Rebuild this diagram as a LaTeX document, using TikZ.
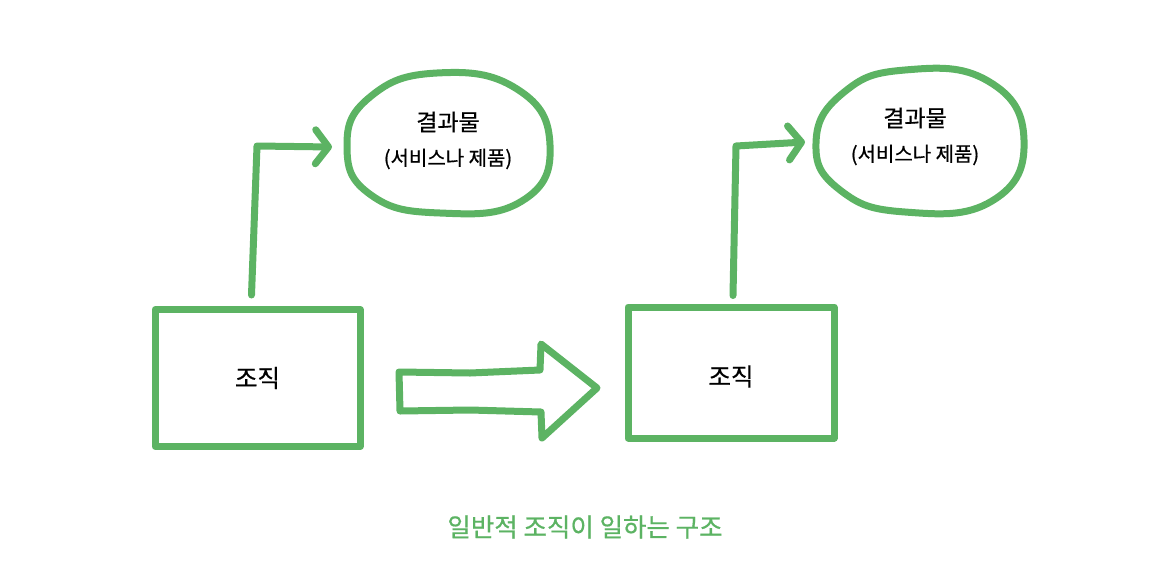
\documentclass[tikz,border=0pt]{standalone}
\usepackage{fontspec}
\setmainfont{Noto Sans CJK KR}[FakeBold=0.6]
\usetikzlibrary{arrows.meta,shapes.geometric}
\definecolor{pen}{RGB}{92,179,99}
\begin{document}
\begin{tikzpicture}[x=1pt,y=-1pt,
  penline/.style={draw=pen,line width=7pt,line cap=round,line join=round},
  box/.style={penline,rectangle,inner sep=0pt},
  blob/.style={ellipse,inner sep=0pt},
  title/.style={inner sep=0pt,font=\fontsize{23}{28}\selectfont},
  orgtext/.style={inner sep=0pt,font=\fontsize{24.5}{28}\selectfont},
  subtitle/.style={inner sep=0pt,font=\fontsize{20}{24}\selectfont},
  conn/.style={penline,-{Straight Barb[length=13pt,width=34pt,round]}},
  caption/.style={inner sep=0pt,text=pen,font=\fontsize{25.5}{30}\selectfont},
]
\useasboundingbox (0,0) rectangle (1170,579);

% left organisation and its result
\node[box,minimum width=205pt,minimum height=137pt] (org1) at (257.5,378) {};
\node[orgtext] (org1t) at (org1.center) {조직};
\node[blob,minimum width=203pt,minimum height=140pt] (res1) at (448,144) {};
\draw[penline] plot[smooth cycle,tension=0.8] coordinates {
  (347,147) (370,97) (437,73) (517,89) (550,145) (522,201) (440,213) (371,195)};
\node[title] (res1t) at ([yshift=22pt]res1.center) {결과물};
\node[subtitle] (res1s) at ([yshift=-15pt]res1.center) {(서비스나 제품)};
\coordinate (c1) at (257,146);
\coordinate (t1) at (332,147);
\draw[conn] ([shift={(-6pt,11pt)}]org1.north) -- (c1) -- (t1);

% right organisation and its result
\node[box,minimum width=206pt,minimum height=131pt] (org2) at (731,372.5) {};
\node[orgtext] (org2t) at ([yshift=-4pt]org2.center) {조직};
\node[blob,minimum width=207pt,minimum height=141pt] (res2) at (920,141) {};
\draw[penline] plot[smooth cycle,tension=0.8] coordinates {
  (816,143) (843,93) (905,70) (988,81) (1024,140) (992,201) (905,212) (840,190)};
\node[title] (res2t) at ([shift={(-5pt,23pt)}]res2.center) {결과물};
\node[subtitle] (res2s) at ([shift={(-5pt,-14pt)}]res2.center) {(서비스나 제품)};
\coordinate (c2) at (736,146);
\coordinate (t2) at (805,142);
\draw[conn] ([shift={(2pt,8pt)}]org2.north) -- (c2) -- (t2);

% big block arrow between the two
\draw[penline] (399,372) -- (470,373) -- (540,370) -- (541,344) -- (597,388)
  -- (542,438) -- (541,412) -- (470,410) -- (400,411) -- cycle;

% caption
\node[caption] (cap) at (585,527) {일반적 조직이 일하는 구조};
\end{tikzpicture}
\end{document}
